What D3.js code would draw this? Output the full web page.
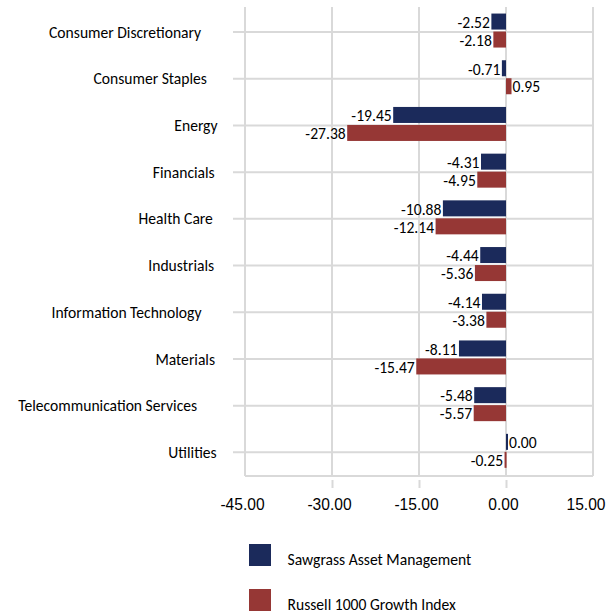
<!DOCTYPE html>
<html><head><meta charset="utf-8">
<script src="https://cdn.jsdelivr.net/npm/d3@7"></script>
<style>
html,body{margin:0;padding:0;background:#fff;}
svg{display:block;font-family:Carlito, Calibri, Lato, "Open Sans", sans-serif;}
</style></head>
<body><svg id="chart" width="606" height="613"></svg>
<script>
const categories = ["Consumer Discretionary","Consumer Staples","Energy","Financials","Health Care","Industrials","Information Technology","Materials","Telecommunication Services","Utilities"];
const seriesNames = ["Sawgrass Asset Management","Russell 1000 Growth Index"];
const sawgrass = [-2.52,-0.71,-19.45,-4.31,-10.88,-4.44,-4.14,-8.11,-5.48,0.00];
const russell  = [-2.18,0.95,-27.38,-4.95,-12.14,-5.36,-3.38,-15.47,-5.57,-0.25];
const xTicks = [-45,-30,-15,0,15];
const colors = ["#1b2a5b","#963735"];

const FS = 15.6;
const svg = d3.select("#chart");
const grid = "#d9d9d9";
const x = d3.scaleLinear().domain([-45,15]).range([245,593]);
const y = d3.scaleBand().domain(categories).range([8.7,475.7]).padding(0);
const inner = d3.scaleBand().domain(seriesNames).range([0,34]).paddingInner(0.11).paddingOuter(0);
const center = c => y(c) + y.bandwidth()/2;

const table = categories.map((c,i)=>({cat:c, vals:[sawgrass[i], russell[i]]}));

// vertical gridlines
svg.append("g").selectAll("line").data(xTicks).join("line")
  .attr("x1",d=>x(d)).attr("x2",d=>x(d)).attr("y1",7).attr("y2",476)
  .attr("stroke",grid).attr("stroke-width",2);

// bottom axis
const xAxis = svg.append("g").attr("transform","translate(0,476)")
  .call(d3.axisBottom(x).tickValues(xTicks).tickSize(12).tickFormat(d=>d.toFixed(2)));
xAxis.select(".domain").attr("stroke",grid).attr("stroke-width",2).attr("d",`M${x(-45)},0H${x(15)}`);
xAxis.selectAll(".tick line").attr("stroke",grid).attr("stroke-width",2)
  .attr("y1",4)
  .attr("opacity",d=>(d===-45||d===15)?0:1);
xAxis.selectAll(".tick text").attr("fill","#000").attr("font-size",FS).attr("font-family",null)
  .attr("y",34).attr("dy",null)
  .attr("text-anchor",d=>d===15?"end":"middle")
  .attr("x",d=>d===15?605-x(15):-3);

// category gridlines + ticks
svg.append("g").selectAll("line").data(categories).join("line")
  .attr("x1",233).attr("x2",593).attr("y1",d=>center(d)).attr("y2",d=>center(d))
  .attr("stroke",grid).attr("stroke-width",2);

// category labels
const catLabels = svg.append("g").selectAll("text").data(categories).join("text")
  .attr("y",d=>center(d)).attr("dy","0.36em").attr("font-size",FS).attr("fill","#000")
  .text(d=>d);
catLabels.each(function(){
  const w = this.getComputedTextLength();
  d3.select(this).attr("x", 224 - 1.15*w);
});

// bars
const groups = svg.append("g").selectAll("g").data(table).join("g")
  .attr("transform",d=>`translate(0,${center(d.cat)-18.5})`);
groups.selectAll("rect").data(d=>d.vals.map((v,j)=>({v,s:seriesNames[j],j}))).join("rect")
  .attr("x",d=>Math.min(x(d.v),x(0)))
  .attr("width",d=>Math.max(Math.abs(x(d.v)-x(0)), 2))
  .attr("y",d=>inner(d.s)).attr("height",inner.bandwidth())
  .attr("fill",d=>colors[d.j]);
groups.selectAll("text").data(d=>d.vals.map((v,j)=>({v,s:seriesNames[j],j}))).join("text")
  .attr("x",d=>d.v<0 ? x(d.v)-1.5 : Math.max(x(d.v),x(0)+2)+1)
  .attr("text-anchor",d=>d.v<0?"end":"start")
  .attr("y",d=>inner(d.s)+inner.bandwidth()/2).attr("dy","0.4em")
  .attr("font-size",FS).attr("fill","#000")
  .text(d=>d.v.toFixed(2));

// legend
const leg = svg.append("g").selectAll("g").data(seriesNames).join("g")
  .attr("transform",(d,i)=>`translate(249,${544+i*45})`);
leg.append("rect").attr("width",22).attr("height",22).attr("fill",(d,i)=>colors[i]);
leg.append("text").attr("x",38.5).attr("y",20.5).attr("font-size",FS).attr("fill","#000").text(d=>d);
</script></body></html>
